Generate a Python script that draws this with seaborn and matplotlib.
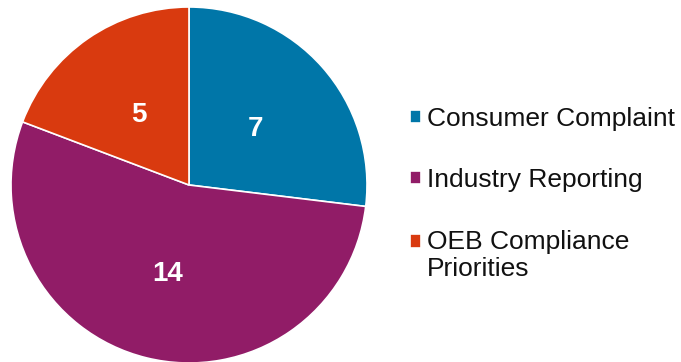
import matplotlib
matplotlib.use("Agg")
import matplotlib.pyplot as plt
from matplotlib.patches import Rectangle
from matplotlib.legend_handler import HandlerPatch
import seaborn as sns

categories = ["Consumer Complaint", "Industry Reporting", "OEB Compliance\nPriorities"]
counts = [7, 14, 5]
colors = ["#0076A8", "#911C67", "#D93A0F"]

sns.set_theme(style="white")
plt.rcParams["font.family"] = ["Liberation Sans", "DejaVu Sans"]

fig = plt.figure(figsize=(6.81, 3.62), dpi=100)
ax = fig.add_axes([11 / 681, -1 / 362, 356 / 681, 356 / 362])

total = sum(counts)
wedges, _, autotexts = ax.pie(
    counts,
    colors=colors,
    startangle=90,
    counterclock=False,
    autopct=lambda p: f"{round(p * total / 100):d}",
    pctdistance=0.5,
    radius=1.0,
    wedgeprops=dict(edgecolor="white", linewidth=1.2),
    textprops=dict(color="white", fontsize=20, fontweight="bold"),
)
for t in autotexts:
    t.set_verticalalignment("center_baseline")
ax.set_xlim(-1, 1)
ax.set_ylim(-1, 1)
ax.set_aspect("equal")


def top_line_square(legend, orig_handle, xdescent, ydescent, width, height, fontsize):
    # keep the swatch level with the first line of a two-line label
    return Rectangle((-xdescent, -ydescent + 10.5), width, height)


leg = fig.legend(
    wedges,
    categories,
    loc="center left",
    bbox_to_anchor=(397 / 681, 1 - 194 / 362),
    frameon=False,
    fontsize=19,
    handlelength=0.4,
    handleheight=0.4,
    handletextpad=0.25,
    labelspacing=1.42,
    borderpad=0,
    handler_map={wedges[2]: HandlerPatch(patch_func=top_line_square)},
)
for t in leg.get_texts():
    t.set_linespacing(1.2)
    t.set_color("#111111")

fig.savefig("out.png", dpi=100)
